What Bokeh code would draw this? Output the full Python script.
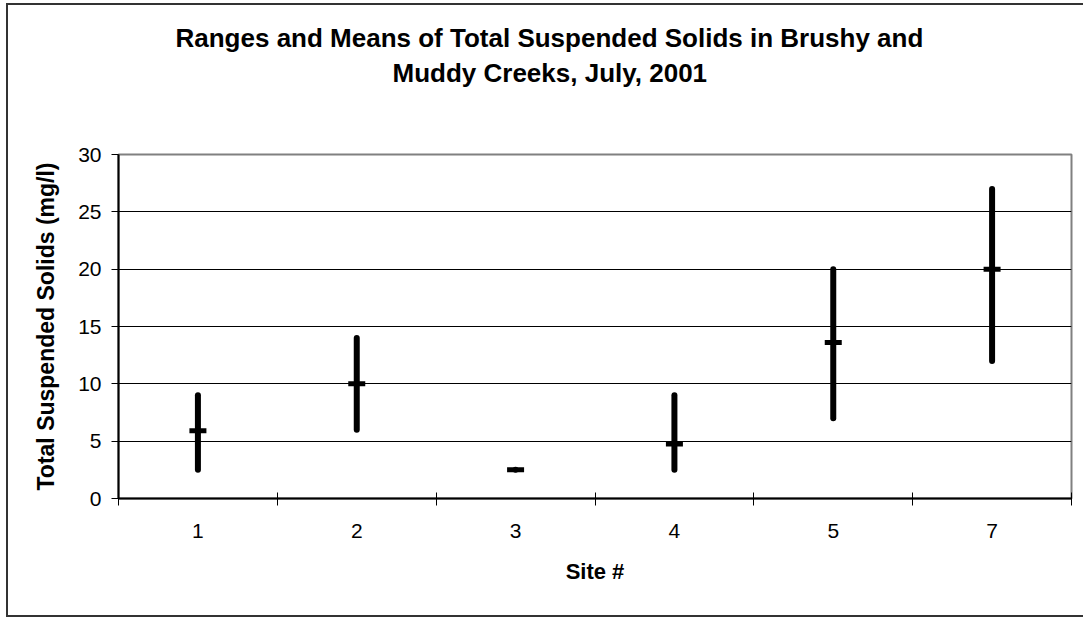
from bokeh.plotting import figure
from bokeh.models import Range1d, FixedTicker, Title, ColumnDataSource
from bokeh.embed import file_html
from bokeh.resources import INLINE

# ---- data ----
sites = ["1", "2", "3", "4", "5", "7"]
tss_low = [2.5, 6, 2.5, 2.5, 7, 12]
tss_high = [9, 14, 2.5, 9, 20, 27]
tss_mean = [5.9, 10, 2.5, 4.75, 13.6, 20]
y_ticks = [0, 5, 10, 15, 20, 25, 30]
title_lines = ["Ranges and Means of Total Suspended Solids in Brushy and",
               "Muddy Creeks, July, 2001"]
x_title = "Site #"
y_title = "Total Suspended Solids (mg/l)"

FONT = "Liberation Sans"
W, H = 1077, 614
BL, BR, BT, BB = 110, 14, 149, 121  # borders around the plot frame (px)

xs = [i + 0.5 for i in range(len(sites))]
src = ColumnDataSource(dict(x=xs, low=tss_low, high=tss_high, mean=tss_mean))

p = figure(width=W, height=H, output_backend="svg", toolbar_location=None,
           title=None,
           x_range=Range1d(0, len(sites)), y_range=Range1d(y_ticks[0], y_ticks[-1]),
           min_border_left=BL, min_border_right=BR, min_border_top=BT,
           min_border_bottom=BB)
p.styles = {"margin-left": "6px", "margin-top": "3px",
            "border-left": "2px solid #333333", "border-top": "2px solid #333333",
            "border-bottom": "2px solid #333333"}
p.background_fill_color = "white"
p.border_fill_color = "white"
p.outline_line_color = "#808080"
p.outline_line_width = 2

# grid
p.xgrid.visible = False
p.ygrid.ticker = FixedTicker(ticks=y_ticks[1:-1])
p.ygrid.grid_line_color = "black"
p.ygrid.grid_line_width = 1

# x axis
xa = p.xaxis[0]
xa.ticker = FixedTicker(ticks=xs, minor_ticks=list(range(len(sites) + 1)))
xa.major_label_overrides = {x: s for x, s in zip(xs, sites)}
xa.major_tick_in = 0
xa.major_tick_out = 0
xa.minor_tick_in = 6
xa.minor_tick_out = 7
xa.minor_tick_line_color = "black"
xa.minor_tick_line_width = 1
xa.axis_line_color = "black"
xa.axis_line_width = 2
xa.major_label_text_font = FONT
xa.major_label_text_font_size = "21px"
xa.major_label_text_color = "black"
xa.major_label_standoff = 18
xa.axis_label = x_title
xa.axis_label_text_font = FONT
xa.axis_label_text_font_size = "22px"
xa.axis_label_text_font_style = "bold"
xa.axis_label_text_color = "black"
xa.axis_label_standoff = 18

# y axis
ya = p.yaxis[0]
ya.ticker = FixedTicker(ticks=y_ticks)
ya.major_tick_in = 0
ya.major_tick_out = 7
ya.major_tick_line_color = "black"
ya.minor_tick_line_color = None
ya.axis_line_color = "black"
ya.axis_line_width = 2
ya.major_label_text_font = FONT
ya.major_label_text_font_size = "21px"
ya.major_label_text_color = "black"
ya.major_label_standoff = 10
ya.axis_label = y_title
ya.axis_label_text_font = FONT
ya.axis_label_text_font_size = "23px"
ya.axis_label_text_font_style = "bold"
ya.axis_label_text_color = "black"
ya.axis_label_standoff = 16

# data
p.segment(x0="x", y0="low", x1="x", y1="high", source=src,
          line_width=6, line_color="black", line_cap="round")
p.scatter(x="x", y="mean", source=src, marker="dash", size=17,
          line_width=5, line_color="black")

# title: two lines stacked above the frame (first added = nearest the frame)
TFS = 26
p.add_layout(Title(text=" ", text_font_size="10px", standoff=52), "above")  # spacer
# offsets place each line's centre at about the chart's horizontal middle
for line, off, so in [(title_lines[1], 274, 4), (title_lines[0], 57, 2)]:
    p.add_layout(Title(text=line, align="left", offset=off, standoff=so,
                       vertical_align="bottom",
                       text_font=FONT, text_font_size=f"{TFS}px",
                       text_font_style="bold", text_color="black"), "above")

open("out.html", "w").write(file_html(p, INLINE))
